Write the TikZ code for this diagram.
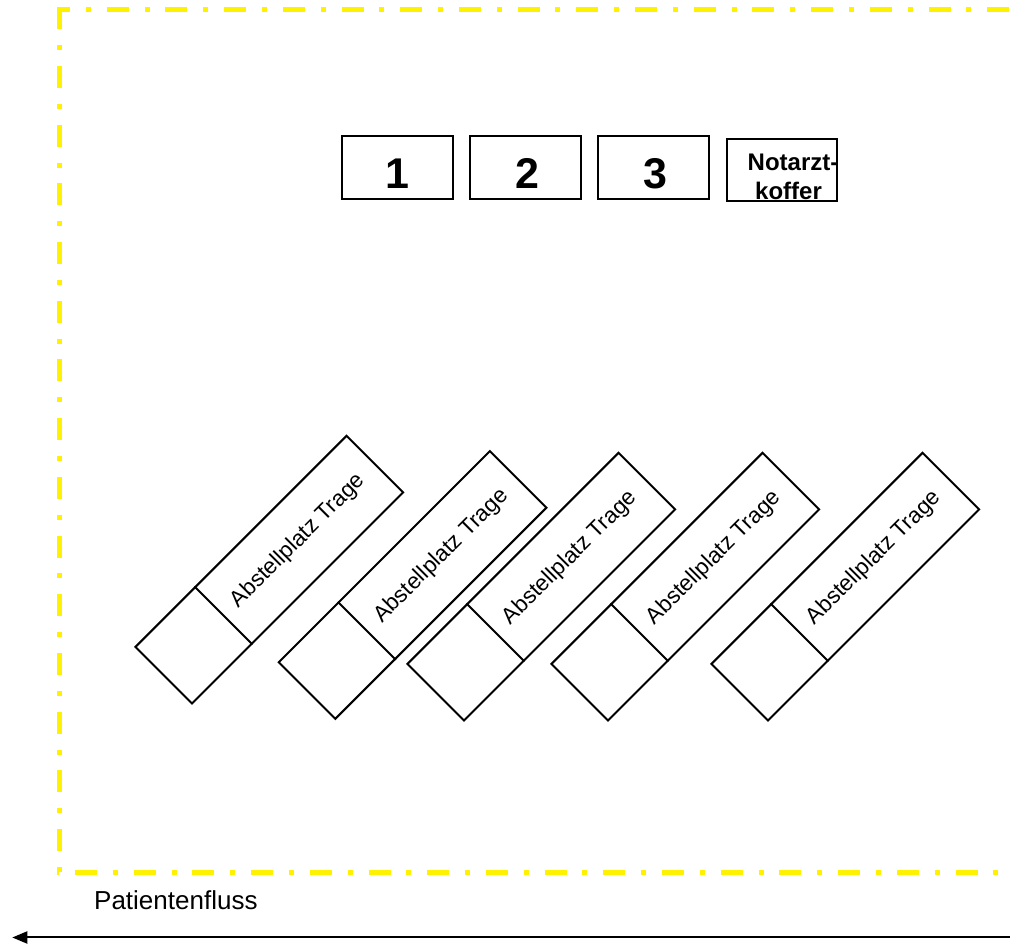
\documentclass[tikz,border=0pt]{standalone}
\usepackage{fontspec}
\setmainfont{Liberation Sans}
\usetikzlibrary{calc,arrows.meta}
\begin{document}
\begin{tikzpicture}[x=1pt,y=1pt,
  border/.style={draw=yellow, line width=5pt, dash pattern=on 22pt off 15.85pt on 5pt off 15.85pt},
  numbox/.style={draw, line width=2pt, minimum width=111pt, minimum height=63pt, inner sep=0pt},
  numtext/.style={font=\fontsize{43}{50}\selectfont\bfseries, inner sep=0pt, anchor=base},
  kofftext/.style={font=\fontsize{24}{29}\selectfont\bfseries, inner sep=0pt, anchor=base},
  trage/.style={draw, line width=2pt, minimum width=298.6pt, minimum height=80pt, inner sep=0pt, anchor=north west},
  tragetext/.style={font=\fontsize{22.5}{27}\selectfont, inner sep=0pt},
  divider/.style={line width=2pt},
  flowtext/.style={font=\fontsize{26}{31}\selectfont, inner sep=0pt, anchor=base west},
  flow/.style={line width=2pt, -{Triangle[length=15pt,width=12pt]}},
]
\useasboundingbox (0,0) rectangle (1010,944);
% yellow dash-dot border
\coordinate (tlx) at (57.3,934.2);
\coordinate (trx) at (1020,934.2);
\coordinate (tly) at (59.8,936.7);
\coordinate (bly) at (59.8,68.5);
\coordinate (blx) at (57.3,71);
\coordinate (brx) at (1020,71);
\draw[border, dash phase=9.3pt] (tlx) -- (trx);
\draw[border] (tly) -- (bly);
\draw[border, dash phase=41pt] (blx) -- (brx);
% numbered boxes
\node[numbox] (b1) at (397.5,776.5) {};
\node[numbox] (b2) at (525.5,776.5) {};
\node[numbox] (b3) at (653,776.5) {};
\node[numbox, minimum width=110pt, minimum height=62pt] (b4) at (782.3,773.7) {};
\node[numtext] (n1) at (397.5,755.7) {1};
\node[numtext] (n2) at (527,755.7) {2};
\node[numtext] (n3) at (655,755.7) {3};
\node[kofftext] (k1) at (793,773.3) {Notarzt-};
\node[kofftext] (k2) at (788.5,744.3) {koffer};
% stretcher places
\foreach \i/\x/\y in {1/134/297, 2/277.3/281.7, 3/406/280, 4/550/280, 5/710/280} {
  \begin{scope}[shift={(\x,\y)}, rotate=45, transform shape]
    \node[trage] (t\i) at (0,0) {};
    \draw[divider] ($(t\i.north west)!0.2847!(t\i.north east)$) -- ($(t\i.south west)!0.2847!(t\i.south east)$);
    \node[tragetext] (a\i) at ($(t\i.west)!0.6363!(t\i.east)$) {Abstellplatz Trage};
  \end{scope}
}
% patient flow
\node[flowtext] (pf) at (94,34) {Patientenfluss};
\coordinate (fr) at (1015,6.5);
\coordinate (fl) at (12.3,6.5);
\draw[flow] (fr) -- (fl);
\end{tikzpicture}
\end{document}
